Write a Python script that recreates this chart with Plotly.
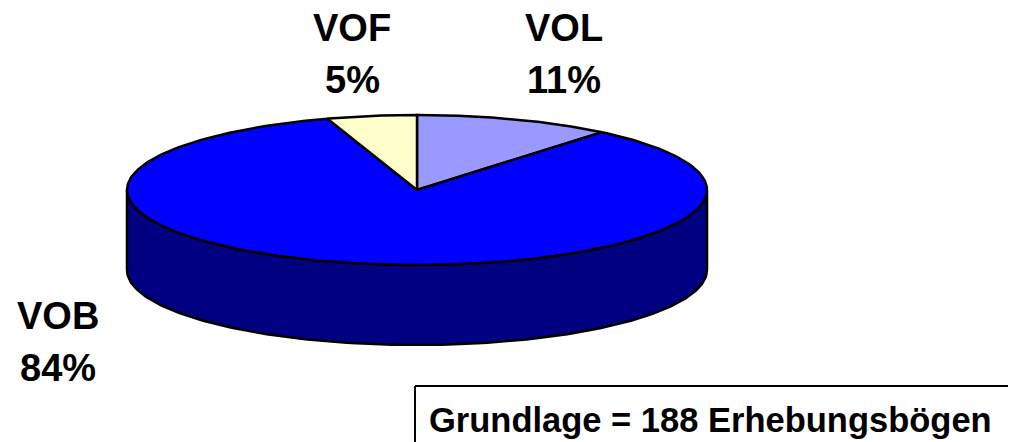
import numpy as np
import plotly.graph_objects as go

# ---- data ----
categories = ["VOL", "VOB", "VOF"]          # clockwise from 12 o'clock
percent = [11, 84, 5]
colors_top = ["#9999FF", "#0000FF", "#FFFFCC"]
color_side = "#000080"
footnote = "Grundlage = 188 Erhebungsbögen"

# ---- geometry (page-pixel-like layout space) ----
PAGE_W, PAGE_H = 1016, 442
OFF = 8                # page body margin
W, H = PAGE_W - OFF, PAGE_H - OFF
cx, cy = 417, 190      # ellipse centre
rx, ry = 290, 75       # radii
depth = 80             # pie thickness

def pt(a_deg, dy=0):
    a = np.radians(a_deg)
    return cx + rx * np.cos(a), cy - ry * np.sin(a) + dy

fig = go.Figure()

# slice angle ranges (math degrees, clockwise from 90)
total = sum(percent)
starts, ends = [], []
a = 90.0
for p in percent:
    starts.append(a)
    a -= 360.0 * p / total
    ends.append(a)

# front side wall: visible part between 180 and 360 (screen bottom half)
for s, e, c in zip(starts, ends, colors_top):
    segs = []
    for shift in (0, -360, 360):
        h2, l2 = s + shift, e + shift
        lo_c, hi_c = max(l2, -180), min(h2, 0)
        if hi_c > lo_c:
            segs.append((lo_c, hi_c))
    for lo_c, hi_c in segs:
        ang = np.linspace(lo_c, hi_c, 200)
        xt, yt = pt(ang)
        xb, yb = pt(ang[::-1], depth)
        fig.add_trace(go.Scatter(
            x=np.concatenate([xt, xb, xt[:1]]),
            y=np.concatenate([yt, yb, yt[:1]]),
            mode="lines", fill="toself", fillcolor=color_side,
            line=dict(color="black", width=2.5), hoverinfo="skip",
            showlegend=False))

# top slices
for s, e, c, name in zip(starts, ends, colors_top, categories):
    ang = np.linspace(s, e, 300)
    xa, ya = pt(ang)
    fig.add_trace(go.Scatter(
        x=np.concatenate([[cx], xa, [cx]]),
        y=np.concatenate([[cy], ya, [cy]]),
        mode="lines", fill="toself", fillcolor=c,
        line=dict(color="black", width=2.5), hoverinfo="skip",
        name=name, showlegend=False))

font = dict(family="Liberation Sans, Arial, sans-serif", size=38, color="black", weight="bold")
label_pos = {"VOF": (352, 28, 80), "VOL": (564, 28, 80), "VOB": (58, 316, 368)}
for name, p in zip(categories, percent):
    x, y1, y2 = label_pos[name]
    fig.add_annotation(x=x, y=y1, text=name, showarrow=False, font=font,
                       xanchor="center", yanchor="middle")
    fig.add_annotation(x=x, y=y2, text=f"{p}%", showarrow=False, font=font,
                       xanchor="center", yanchor="middle")

# footnote box (only top and left borders are inside the picture)
fig.add_shape(type="line", x0=415, x1=1100, y0=386, y1=386,
              line=dict(color="black", width=2))
fig.add_shape(type="line", x0=415, x1=415, y0=386, y1=500,
              line=dict(color="black", width=2))
fig.add_annotation(x=710, y=420, text=footnote, showarrow=False,
                   font=dict(family="Liberation Sans, Arial, sans-serif", size=34.5,
                             color="black", weight="bold"),
                   xanchor="center", yanchor="middle")

fig.update_layout(
    width=W, height=H, margin=dict(l=0, r=0, t=0, b=0),
    paper_bgcolor="white", plot_bgcolor="white",
    xaxis=dict(range=[OFF, PAGE_W], visible=False, fixedrange=True),
    yaxis=dict(range=[PAGE_H, OFF], visible=False, fixedrange=True),
)
fig.write_html("out.html")
